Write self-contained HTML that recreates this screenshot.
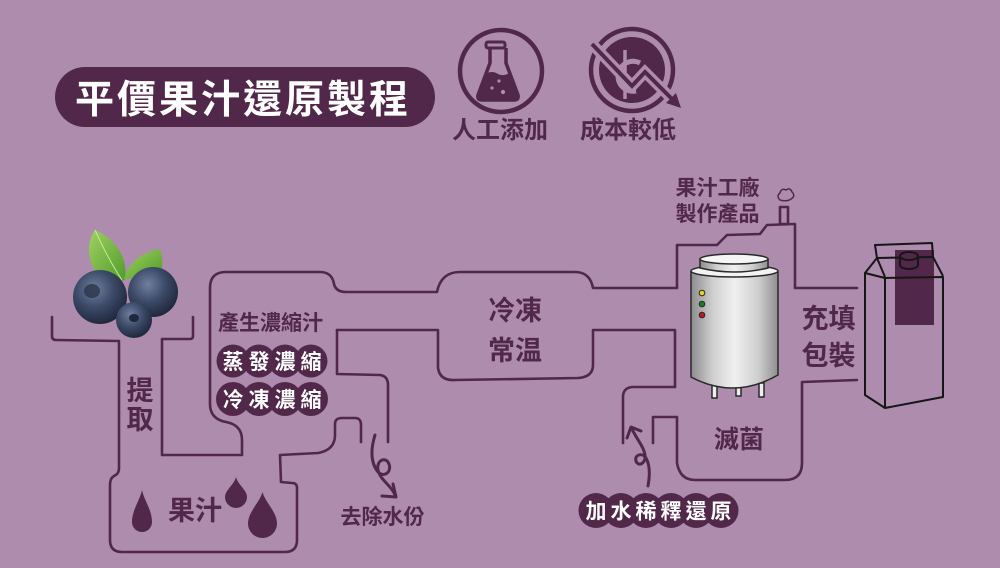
<!DOCTYPE html>
<html><head><meta charset="utf-8"><style>
html,body{margin:0;padding:0;background:#ad8cad;}
svg{display:block;}
text{font-family:"Liberation Sans","Noto Sans CJK TC","Noto Sans CJK SC",sans-serif;font-weight:700;}
</style></head><body>
<svg width="1000" height="568" viewBox="0 0 1000 568" xmlns="http://www.w3.org/2000/svg">
<defs>
<linearGradient id="steel" x1="0" x2="1" y1="0" y2="0">
<stop offset="0" stop-color="#8c8c8c"/><stop offset="0.25" stop-color="#cfcfcf"/><stop offset="0.5" stop-color="#f0f0f0"/><stop offset="0.78" stop-color="#cdcdcd"/><stop offset="1" stop-color="#8e8e8e"/>
</linearGradient>
<radialGradient id="berry" cx="0.4" cy="0.35" r="0.7">
<stop offset="0" stop-color="#6f7f9e"/><stop offset="0.5" stop-color="#3c4a68"/><stop offset="1" stop-color="#1c2438"/>
</radialGradient>
<linearGradient id="leaf" x1="0" x2="1" y1="0" y2="1">
<stop offset="0" stop-color="#9fd160"/><stop offset="1" stop-color="#4f9a2a"/>
</linearGradient>
</defs>
<rect width="1000" height="568" fill="#ad8cad"/>

<!-- Title -->
<rect x="55" y="67" width="380" height="60" rx="30" fill="#52284a"/>
<text x="75" y="113" font-size="39" fill="#fff" letter-spacing="3">平價果汁還原製程</text>

<!-- Icon 1 flask -->
<circle cx="501" cy="71" r="41" fill="none" stroke="#52284a" stroke-width="4.5"/>
<rect x="486" y="42" width="19" height="6" rx="2" fill="none" stroke="#52284a" stroke-width="3"/>
<path d="M490,48 L490,63 L478,95 Q477,100 482,100 L514,100 Q519,100 518,95 L506,63 L506,48" fill="none" stroke="#52284a" stroke-width="3.5" stroke-linejoin="round"/>
<path d="M485,74 Q492,70 498,74 Q504,77 511,72 L518,95 Q519,100 514,100 L482,100 Q477,100 478,95 Z" fill="#52284a"/>
<circle cx="492" cy="88" r="1.6" fill="#ad8cad"/><circle cx="499" cy="81" r="1.6" fill="#ad8cad"/><circle cx="503" cy="92" r="2.1" fill="#ad8cad"/>
<text x="500" y="138" font-size="24" fill="#52284a" text-anchor="middle">人工添加</text>

<!-- Icon 2 cost -->
<circle cx="632" cy="70" r="41" fill="none" stroke="#52284a" stroke-width="4.5"/>
<circle cx="632" cy="70" r="33" fill="#52284a"/>
<line x1="625" y1="50" x2="625" y2="99" stroke="#ad8cad" stroke-width="3.5"/>
<path d="M640,63 A15,15 0 1 0 636,91" fill="none" stroke="#ad8cad" stroke-width="5"/>
<path d="M592,44 L632,86 L645,72 L676,103" fill="none" stroke="#ad8cad" stroke-width="11" stroke-linejoin="miter"/>
<path d="M592,44 L632,86 L645,72 L674,101" fill="none" stroke="#52284a" stroke-width="4"/>
<path d="M681,108 L666,103 L676,93 Z" fill="#52284a"/>
<text x="628" y="138" font-size="24" fill="#52284a" text-anchor="middle">成本較低</text>

<!-- Pipes -->
<g fill="none" stroke="#52284a" stroke-width="2.6" stroke-linecap="round" stroke-linejoin="round">
<path d="M52,317 L52,336 Q52,340 56,340 L119,341 L119,468 Q119,474 114,476 Q110,478 110,485 L110,540 Q110,552 122,552 L285,552 Q297,552 297,540 L297,488 Q297,483 292,483 L281,482 L280,455 L318,453 Q335,450 335,435 L335,424 Q335,418 342,418 L355,418 Q361,418 361,425 L361,442"/>
<path d="M193,317 L193,336 Q193,339 190,339 L162,339 L162,455 L242,455 L242,440 Q242,425 226,422 Q210,419 210,404 L210,288 Q210,272 226,272 L320,272 Q332,272 334,284 Q336,292 346,292 L437,292 Q441,272 460,272 L575,272 Q590,272 593,288 L677,288 L677,245 L717,245 L727,235 L760,234 L767,225 L795,224 L795,288 L857,288"/>
<path d="M337,330 L438,330 L438,368 Q440,381 455,380 L578,378 Q593,377 593,365 L593,330 L675,330 L675,387 L632,387 Q623,388 623,397 L623,443"/>
<path d="M337,330 L337,374 L380,375 Q388,376 388,385 L388,442"/>
<path d="M653,443 L653,417 L677,417 L677,463 Q680,480 695,480 L785,480 Q802,480 802,463 L802,382 L857,380"/>
<rect x="780" y="207" width="8" height="17"/>
<path d="M780,200 Q776,196 780,193 Q781,188 786,190 Q790,187 792,192 Q796,196 791,199 Q787,202 780,200 Z" stroke-width="1.5"/>
<!-- curly arrows -->
<path d="M375,435 C371,448 370,462 378,472 C384,478 392,472 389,464 C386,456 376,460 378,470 C380,480 392,486 395,495" stroke-width="3"/>
<path d="M382,496 L396,497 L393,484" stroke-width="3"/>
<path d="M648,486 C650,475 650,465 646,458 C642,452 634,455 636,461 C638,467 646,464 645,455 C644,447 636,438 632,429" stroke-width="3"/>
<path d="M627,438 L631,427 L641,431" stroke-width="3"/>
</g>

<!-- Blueberries -->
<path d="M95,230 C84,246 88,268 106,284 L125,280 C128,260 118,240 95,230 Z" fill="url(#leaf)"/>
<path d="M95,230 C104,250 112,265 122,280" stroke="#c8e89a" stroke-width="1" fill="none"/>
<path d="M160,249 C145,251 128,262 124,279 L160,277 C163,268 163,258 160,249 Z" fill="url(#leaf)"/>
<circle cx="100" cy="297" r="27" fill="url(#berry)"/>
<ellipse cx="92" cy="291" rx="8" ry="7" fill="#2a3449" opacity="0.8"/>
<circle cx="153" cy="292" r="25" fill="url(#berry)"/>
<circle cx="134" cy="320" r="18" fill="url(#berry)"/>
<ellipse cx="134" cy="318" rx="5" ry="4" fill="#1f283c"/>

<!-- Tank -->
<g stroke="#2a2a2a" stroke-width="1.5">
<rect x="712" y="383" width="5" height="15" fill="#eee"/>
<rect x="736" y="385" width="5" height="11" fill="#eee"/>
<rect x="759" y="383" width="5" height="14" fill="#eee"/>
<path d="M691,272 L691,377 Q734,400 778,375 L778,272 Z" fill="url(#steel)"/>
<ellipse cx="734.5" cy="271" rx="43.5" ry="6" fill="#f3f3f3"/>
<path d="M700,259 L700,268 Q734,276 768,268 L768,259 Z" fill="url(#steel)"/>
<ellipse cx="734" cy="259" rx="34" ry="5" fill="#f5f5f5"/>
<circle cx="702" cy="293" r="2.8" fill="#e8d21a" stroke-width="1"/>
<circle cx="702" cy="304" r="2.8" fill="#1d7a2a" stroke-width="1"/>
<circle cx="702" cy="315" r="2.8" fill="#c81414" stroke-width="1"/>
</g>

<!-- Carton -->
<rect x="895" y="250" width="39" height="75" fill="#52284a"/>
<g fill="none" stroke="#161616" stroke-width="2" stroke-linejoin="round">
<path d="M875,245 L932,243 L933,257 L877,258 Z"/>
<path d="M865,273 L877,258 L885,277"/>
<path d="M933,257 L943,276"/>
<path d="M865,273 L865,395 L885,408 L943,397 L943,277 L885,278 Z"/>
<path d="M885,278 L885,408"/>
<path d="M900,256 L900,265 A9,4 0 0 0 918,265 L918,256" fill="#52284a"/>
<ellipse cx="909" cy="256" rx="9" ry="4" fill="#52284a"/>
</g>

<!-- Drops -->
<g fill="#52284a">
<path d="M142,490 C144,500 152,510 152,522 A10,10 0 0 1 132,522 C132,510 140,500 142,490 Z"/>
<path d="M236,477 C238,485 247,490 247,497 A11,11 0 0 1 225,497 C225,490 234,485 236,477 Z"/>
<path d="M262.5,492 C265,502 277,512 277,523.5 A14.5,14.5 0 0 1 248,523.5 C248,512 260,502 262.5,492 Z"/>
</g>

<!-- Pills -->
<g fill="#52284a">
<circle cx="233" cy="361" r="16.5"/><circle cx="259" cy="361" r="16.5"/><circle cx="285" cy="361" r="16.5"/><circle cx="311" cy="361" r="16.5"/>
<circle cx="233" cy="399" r="17"/><circle cx="259" cy="399" r="17"/><circle cx="285" cy="399" r="17"/><circle cx="311" cy="399" r="17"/>
<circle cx="596" cy="510.5" r="17.5"/><circle cx="621" cy="510.5" r="17.5"/><circle cx="646" cy="510.5" r="17.5"/><circle cx="671" cy="510.5" r="17.5"/><circle cx="696" cy="510.5" r="17.5"/><circle cx="721" cy="510.5" r="17.5"/>
</g>
<g fill="#fff" font-size="21" text-anchor="middle">
<text x="233" y="369">蒸</text><text x="259" y="369">發</text><text x="285" y="369">濃</text><text x="311" y="369">縮</text>
<text x="233" y="407">冷</text><text x="259" y="407">凍</text><text x="285" y="407">濃</text><text x="311" y="407">縮</text>
<text x="596" y="518.5">加</text><text x="621" y="518.5">水</text><text x="646" y="518.5">稀</text><text x="671" y="518.5">釋</text><text x="696" y="518.5">還</text><text x="721" y="518.5">原</text>
</g>

<!-- Labels -->
<g fill="#52284a">
<text x="218" y="330" font-size="21">產生濃縮汁</text>
<text x="140" y="400" font-size="27" text-anchor="middle">提</text>
<text x="140" y="429" font-size="27" text-anchor="middle">取</text>
<text x="195" y="520" font-size="27" text-anchor="middle">果汁</text>
<text x="515" y="320" font-size="27" text-anchor="middle">冷凍</text>
<text x="515" y="360" font-size="27" text-anchor="middle">常温</text>
<text x="382.5" y="524" font-size="21" text-anchor="middle">去除水份</text>
<text x="739" y="448" font-size="25" text-anchor="middle">滅菌</text>
<text x="717.5" y="195" font-size="21" text-anchor="middle">果汁工廠</text>
<text x="717.5" y="221" font-size="21" text-anchor="middle">製作產品</text>
<text x="828.5" y="328" font-size="27" text-anchor="middle">充填</text>
<text x="828.5" y="365" font-size="27" text-anchor="middle">包裝</text>
</g>
</svg>
</body></html>
